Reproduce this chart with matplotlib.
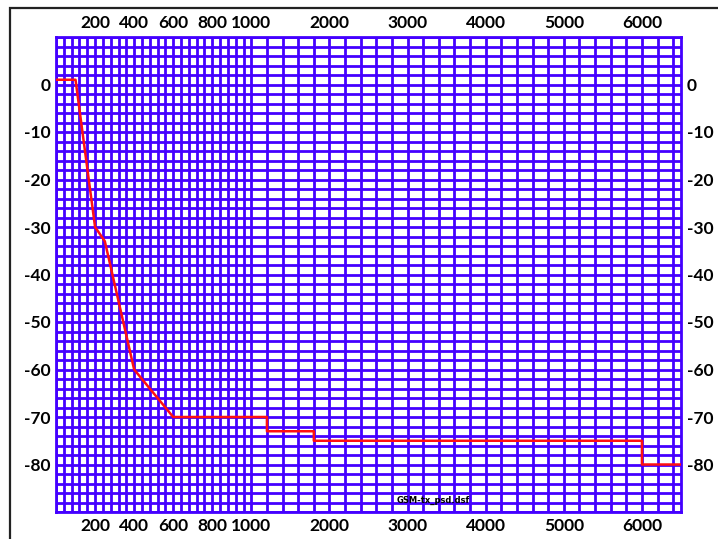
import numpy as np
import matplotlib
matplotlib.use("Agg")
import matplotlib.pyplot as plt
from matplotlib.patches import Rectangle

# GSM tx PSD mask: frequency offset (kHz) vs relative level (dB)
freq = [0, 100, 200, 250, 400, 600, 1200, 1200, 1800, 1800, 6000, 6000, 6500]
level = [1, 1, -30, -33, -60, -70, -70, -73, -73, -75, -75, -80, -80]

x_labels = [200, 400, 600, 800, 1000, 2000, 3000, 4000, 5000, 6000]
y_labels = [0, -10, -20, -30, -40, -50, -60, -70, -80]

BLUE = "#4400ff"
RED = "#ff1010"
BREAK = 1000.0
SHRINK = 0.4

plt.rcParams["font.family"] = ["Lato", "DejaVu Sans"]
plt.rcParams["font.weight"] = "bold"


def fwd(x):
    x = np.asarray(x, dtype=float)
    return np.where(x <= BREAK, x, BREAK + (x - BREAK) * SHRINK)


def inv(y):
    y = np.asarray(y, dtype=float)
    return np.where(y <= BREAK, y, BREAK + (y - BREAK) / SHRINK)


fig = plt.figure(figsize=(7.18, 5.39), dpi=100)
ax = fig.add_axes([56 / 718, 27 / 539, 625 / 718, 475 / 539])
ax.set_xscale("function", functions=(fwd, inv))
ax.set_xlim(0, 6500)
ax.set_ylim(-90, 10)

# grid: fine below 1 MHz, coarser above
grid_x = np.concatenate([np.arange(0, 1000, 40), np.arange(1000, 6501, 200)])
grid_y = np.arange(-90, 11, 2)
ax.set_xticks(grid_x, minor=True)
ax.set_yticks(grid_y, minor=True)
ax.set_xticks(x_labels, [str(v) for v in x_labels])
ax.set_yticks(y_labels, [str(v) for v in y_labels])
ax.grid(which="both", color=BLUE, linewidth=2.0)
ax.set_axisbelow(True)

for s in ax.spines.values():
    s.set_color(BLUE)
    s.set_linewidth(2.0)

ax.tick_params(which="both", length=0, labeltop=True, labelright=True,
               labelsize=12.5)
ax.tick_params(axis="x", which="major", pad=4)
ax.tick_params(axis="y", which="major", pad=4)

ax.plot(freq, level, color=RED, linewidth=1.8, zorder=3)

ax.text(0.603, 0.025, "GSM-tx_psd.dsf", transform=ax.transAxes, fontsize=6,
        family="DejaVu Sans", fontweight="bold", color="black",
        ha="center", va="center", zorder=4)

# outer frame
fig.patches.append(Rectangle((10 / 718, -0.05), 1.0, 1 - 8 / 539 + 0.05,
                             transform=fig.transFigure, fill=False,
                             edgecolor="#222222", linewidth=1.6))

fig.savefig("out.png", dpi=100)
